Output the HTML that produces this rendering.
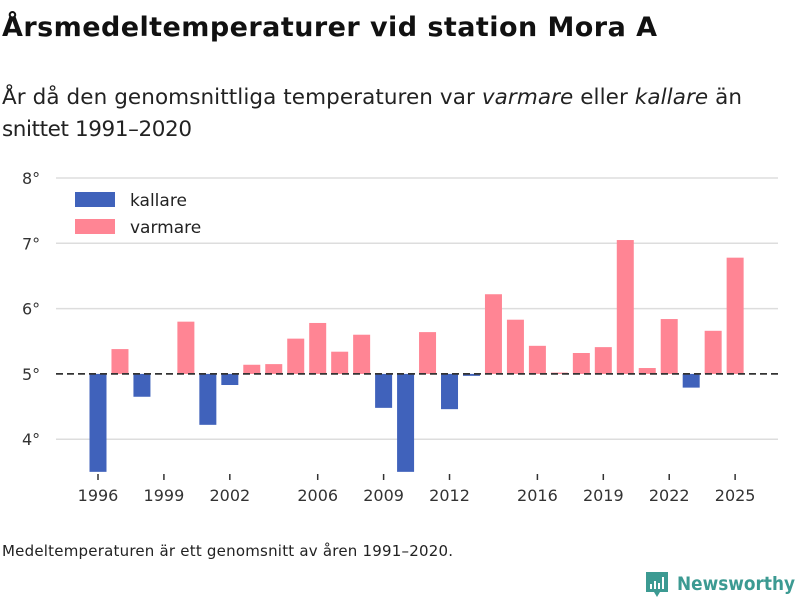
<!DOCTYPE html>
<html><head><meta charset="utf-8"><style>
body{margin:0;background:#fff;font-family:"DejaVu Sans","Liberation Sans",sans-serif;}
#wrap{position:relative;width:800px;height:600px;overflow:hidden;}
</style></head><body>
<div id="wrap">
<svg id="svg" width="800" height="600" xmlns="http://www.w3.org/2000/svg">
<text x="2" y="36" font-size="27" font-weight="bold" fill="#111" textLength="655">Årsmedeltemperaturer vid station Mora A</text>
<text x="2" y="104" font-size="21.5" fill="#222" textLength="740">År då den genomsnittliga temperaturen var <tspan font-style="italic">varmare</tspan> eller <tspan font-style="italic">kallare</tspan> än</text>
<text x="2" y="136" font-size="21.5" fill="#222" textLength="190">snittet 1991–2020</text>
<g id="grid"></g><g id="bars"></g><g id="xaxis"></g>
<g>
<rect x="70" y="184" width="140" height="56" fill="#fff"/>
<rect x="75" y="192" width="40" height="15" fill="#4062bb"/>
<text x="130" y="206" font-size="17" fill="#222">kallare</text>
<rect x="75" y="219" width="40" height="15" fill="#ff8594"/>
<text x="130" y="233" font-size="17" fill="#222">varmare</text>
</g>
<text x="2" y="556" font-size="15" fill="#222" textLength="451">Medeltemperaturen är ett genomsnitt av åren 1991–2020.</text>
<g>
<path d="M646 572 h22 v20 h-8 l-3 5 l-3 -5 h-8 z" fill="#3c9a92"/>
<rect x="650" y="584" width="2" height="5" fill="#fff"/><rect x="654" y="581" width="2" height="8" fill="#fff"/><rect x="658" y="583" width="2" height="6" fill="#fff"/><rect x="662" y="577" width="2" height="12" fill="#fff"/>
<text x="677" y="590" font-size="19" font-weight="bold" fill="#3c9a92" textLength="118" lengthAdjust="spacingAndGlyphs">Newsworthy</text>
</g>
</svg>
</div>
<script>
const years=[1996,1997,1998,1999,2000,2001,2002,2003,2004,2005,2006,2007,2008,2009,2010,2011,2012,2013,2014,2015,2016,2017,2018,2019,2020,2021,2022,2023,2024,2025];
const temps=[3.3,5.38,4.65,5.0,5.80,4.22,4.83,5.14,5.15,5.54,5.78,5.34,5.60,4.48,3.3,5.64,4.46,4.97,6.22,5.83,5.43,5.02,5.32,5.41,7.05,5.09,5.84,4.79,5.66,6.78];
const baseline=5.0;
const yTicks=[4,5,6,7,8];
const xTickYears=[1996,1999,2002,2006,2009,2012,2016,2019,2022,2025];
const yMin=3.5,yMax=8;
const NS="http://www.w3.org/2000/svg";
function y(v){return 178+(8-v)*65.3;}
function x(yr){return 98+(yr-1996)*21.97;}
function mk(tag,attrs,parent){const e=document.createElementNS(NS,tag);for(const k in attrs)e.setAttribute(k,attrs[k]);document.getElementById(parent).appendChild(e);return e;}
yTicks.forEach(t=>{
  if(t!==baseline){const l=mk('line',{x1:56,x2:778,y1:y(t),y2:y(t),stroke:'#dddddd','stroke-width':1.5},'grid');
  
  }
  const tx=mk('text',{x:22,y:y(t)+6,'font-size':16,fill:'#333'},'grid');tx.textContent=t+'°';
  
  
});
years.forEach((yr,i)=>{
  const v=Math.max(temps[i],yMin);
  const top=Math.min(y(v),y(baseline)),h=Math.abs(y(v)-y(baseline));
  const r=mk('rect',{x:x(yr)-8.5,y:top,width:17,height:h,fill:temps[i]<baseline?'#4062bb':'#ff8594'},'bars');
  
  
});
const bl=mk('line',{x1:56,x2:778,y1:y(baseline),y2:y(baseline),stroke:'#333','stroke-width':1.8,'stroke-dasharray':'7,4'},'bars');


xTickYears.forEach(yr=>{
  const l=mk('line',{x1:x(yr),x2:x(yr),y1:474,y2:480,stroke:'#333','stroke-width':1.5},'xaxis');
  
  
  const t=mk('text',{x:x(yr),y:501,'font-size':16,fill:'#333','text-anchor':'middle'},'xaxis');t.textContent=yr;
  
  
});
</script>
</body></html>
